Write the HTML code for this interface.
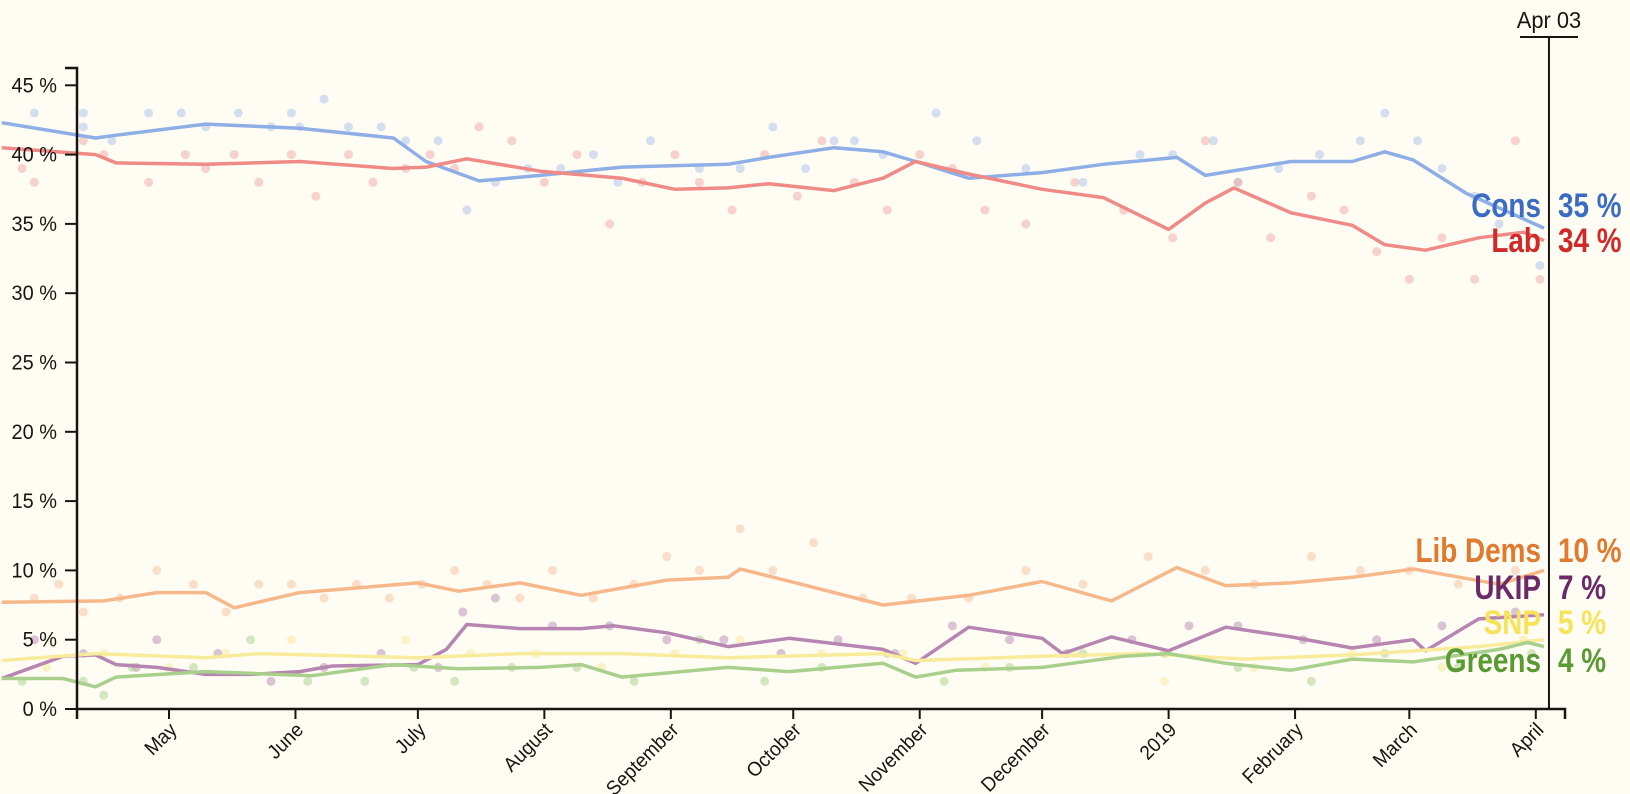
<!DOCTYPE html>
<html><head><meta charset="utf-8">
<style>
html,body{margin:0;padding:0;background:#fffdf3;}
svg{display:block;font-family:"Liberation Sans Narrow","Liberation Sans",sans-serif;}
</style></head>
<body>
<svg id="chart" width="1630" height="794" xmlns="http://www.w3.org/2000/svg">
<rect width="1630" height="794" fill="#fffdf3"/>
<g id="dots"></g>
<g id="lines"></g>
<g id="axes"></g>
<g id="labels"></g>
</svg>
<script>
// days since 2018-05-01
const consDays=[-41,-18,-13,9,32,55,63,76,91,111,137,147,163,175,183,196,214,229,247,254,275,290,298,305,318,337];
const consVals=[42.3,41.2,41.4,42.2,41.9,41.2,39.5,38.1,38.5,39.1,39.3,39.8,40.5,40.2,39.5,38.3,38.7,39.3,39.8,38.5,39.5,39.5,40.2,39.6,37.2,34.7];
const labDays=[-41,-18,-13,9,32,55,63,73,91,111,124,137,147,163,175,183,196,214,229,245,254,261,275,290,298,308,321,332,337];
const labVals=[40.5,40.0,39.4,39.3,39.5,39.0,39.1,39.7,38.8,38.3,37.5,37.6,37.9,37.4,38.3,39.5,38.6,37.5,36.9,34.6,36.5,37.6,35.8,34.9,33.5,33.1,34.0,34.4,33.8];
const ldDays=[-41,-16,-3,9,16,32,61,71,86,101,122,137,140,155,175,196,214,231,247,259,275,290,305,326,337];
const ldVals=[7.7,7.8,8.4,8.4,7.3,8.4,9.1,8.5,9.1,8.2,9.3,9.5,10.1,9.0,7.5,8.2,9.2,7.8,10.2,8.9,9.1,9.5,10.1,9.0,10.0];
const ukipDays=[-41,-26,-18,-13,-3,9,20,32,40,61,68,73,86,101,109,122,137,152,175,183,196,214,219,231,245,259,275,290,305,308,321,337];
const ukipVals=[2.2,3.8,3.9,3.2,3.0,2.5,2.5,2.7,3.1,3.2,4.3,6.1,5.8,5.8,6.0,5.5,4.5,5.1,4.3,3.3,5.9,5.1,4.0,5.2,4.2,5.9,5.2,4.4,5.0,4.2,6.5,6.8];
const snpDays=[-41,-18,9,22,61,86,111,137,175,183,214,239,264,290,321,337];
const snpVals=[3.5,4.0,3.7,4.0,3.7,4.0,4.0,3.7,4.0,3.5,3.8,4.0,3.6,3.9,4.5,5.0];
const greenDays=[-41,-26,-18,-13,9,35,55,71,91,101,111,137,152,175,183,193,214,234,245,259,275,290,305,326,333,337];
const greenVals=[2.2,2.2,1.6,2.3,2.7,2.4,3.2,2.9,3.0,3.2,2.3,3.0,2.7,3.3,2.3,2.8,3.0,3.8,4.0,3.3,2.8,3.6,3.4,4.3,4.8,4.5];
// poll dots [day, value]
const consPollDays=[-33,-21,-21,-14,-5,3,9,17,25,30,32,38,44,52,58,66,73,80,88,96,104,110,118,130,140,148,156,163,168,175,188,198,210,224,238,246,256,262,272,282,292,298,306,312,320,326,336];
const consPollVals=[43,42,43,41,43,43,42,43,42,43,42,44,42,42,41,41,36,38,39,39,40,38,41,39,39,42,39,41,41,40,43,41,39,38,40,40,41,38,39,40,41,43,41,39,37,35,32];
const labPollDays=[-36,-33,-21,-16,-5,4,9,16,22,30,36,44,50,58,64,70,76,84,92,100,108,116,124,130,138,146,154,160,168,176,184,192,200,210,222,234,246,254,262,270,280,288,296,304,312,320,330,336];
const labPollVals=[39,38,41,40,38,40,39,40,38,40,37,40,38,39,40,39,42,41,38,40,35,38,40,38,36,40,37,41,38,36,40,39,36,35,38,36,34,41,38,34,37,36,33,31,34,31,41,31];
const ldPollDays=[-33,-27,-21,-12,-3,6,14,22,30,38,46,54,62,70,78,86,94,104,114,122,130,140,148,158,170,182,196,210,224,240,254,266,280,292,304,316,330];
const ldPollVals=[8,9,7,8,10,9,7,9,9,8,9,8,9,10,9,8,10,8,9,11,10,13,10,12,8,8,8,10,9,11,10,9,11,10,10,9,10];
const ukipPollDays=[-33,-21,-8,-3,12,25,38,52,66,72,80,94,108,122,136,150,164,178,192,206,220,236,250,262,278,296,312,330];
const ukipPollVals=[5,4,3,5,4,2,3,4,3,7,8,6,6,5,5,4,5,4,6,5,4,5,6,6,5,5,6,7];
const snpPollDays=[-30,-16,0,14,30,44,58,74,90,106,124,140,160,180,200,222,244,266,290,312,332];
const snpPollVals=[3,4,3,4,5,3,5,4,4,3,4,5,4,4,3,4,2,3,4,3,5];
const greenPollDays=[-36,-21,-16,-9,6,20,34,48,60,70,84,100,114,130,146,160,176,190,206,224,244,262,280,298,316,334];
const greenPollVals=[2,2,1,3,3,5,2,2,3,2,3,3,2,5,2,3,4,2,3,4,4,3,2,4,3,4];
const yTicks=[0,5,10,15,20,25,30,35,40,45];
const monthNames=["May","June","July","August","September","October","November","December","2019","February","March","April"];
const monthDays=[0,31,61,92,123,153,184,214,245,276,304,335];
const parties=["Cons","Lab","Lib Dems","UKIP","SNP","Greens"];
const partyFinal=["35 %","34 %","10 %","7 %","5 %","4 %"];

const NS="http://www.w3.org/2000/svg";
const X0=169, PXD=4.08, Y0=709, PXV=13.86;
const x=d=>X0+d*PXD;
const y=v=>Y0-v*PXV;
function mk(tag,attrs,parent){const e=document.createElementNS(NS,tag);for(const k in attrs)e.setAttribute(k,attrs[k]);parent.appendChild(e);return e;}
function txt(parent,tx,ty,anchor,size,sx,fill,weight,rot){
  const tr=`translate(${tx},${ty})`+(rot?` rotate(${rot})`:'')+` scale(${sx},1)`;
  return mk('text',{x:0,y:0,'text-anchor':anchor,'font-size':size,'font-weight':weight||'normal',fill:fill,transform:tr},parent);
}

const series=[
 {key:"cons",days:consDays,vals:consVals,pd:consPollDays,pv:consPollVals,line:"#8eaee6",dot:"#a9c0ea",lab:"#3b6cc3",ly:205},
 {key:"lab",days:labDays,vals:labVals,pd:labPollDays,pv:labPollVals,line:"#ef8a86",dot:"#f0a6a3",lab:"#d0292a",ly:240},
 {key:"libdems",days:ldDays,vals:ldVals,pd:ldPollDays,pv:ldPollVals,line:"#f6b88a",dot:"#f5bf9d",lab:"#e07a2f",ly:550},
 {key:"ukip",days:ukipDays,vals:ukipVals,pd:ukipPollDays,pv:ukipPollVals,line:"#b685b1",dot:"#b58ab2",lab:"#6a2a67",ly:587},
 {key:"snp",days:snpDays,vals:snpVals,pd:snpPollDays,pv:snpPollVals,line:"#f8ec9c",dot:"#f7ea9a",lab:"#f6e35a",ly:622},
 {key:"greens",days:greenDays,vals:greenVals,pd:greenPollDays,pv:greenPollVals,line:"#a9cf8d",dot:"#a9cf8d",lab:"#5a9a33",ly:660}
];
const dotsG=document.getElementById('dots'), linesG=document.getElementById('lines'), axG=document.getElementById('axes'), labG=document.getElementById('labels');
series.forEach(s=>{
  s.pd.forEach((d,i)=>{
    const c=mk('circle',{cx:x(d),cy:y(s.pv[i]),r:4.5,fill:s.dot,opacity:0.5},dotsG);
    
    
  });
});
series.forEach(s=>{
  const pts=s.days.map((d,i)=>x(d).toFixed(1)+','+y(s.vals[i]).toFixed(1)).join(' ');
  const p=mk('polyline',{points:pts,fill:'none',stroke:s.line,'stroke-width':3.5,'stroke-linejoin':'round'},linesG);
  
  
});
// y axis
const ya=mk('path',{d:'M65,68H77V709',fill:'none',stroke:'#1a1410','stroke-width':2.5},axG);


yTicks.forEach(v=>{
  mk('line',{x1:65,x2:77,y1:y(v),y2:y(v),stroke:'#1a1410','stroke-width':2},axG);
  const t=txt(axG,57,y(v)+7,'end',21,0.95,'#1a1410');
  t.textContent=v+' %';
  
  
});
// x axis
const xa=mk('path',{d:'M77,719V709H1565V719',fill:'none',stroke:'#1a1410','stroke-width':2.5},axG);


monthDays.forEach((d,i)=>{
  const tx=x(d);
  mk('line',{x1:tx,x2:tx,y1:709,y2:719,stroke:'#1a1410','stroke-width':2},axG);
  const t=txt(axG,tx+9,731,'end',20,0.95,'#1a1410','normal',-45);
  t.textContent=monthNames[i];
  
  
});
// current date marker
const cx=x(337)+5;
const vl=mk('path',{d:`M${cx-29},37H${cx+29}M${cx},37V709`,fill:'none',stroke:'#1a1410','stroke-width':2},axG);


const dt=txt(axG,cx,28,'middle',23,0.95,'#1a1410');
dt.textContent='Apr 03';


// party labels
series.forEach((s,i)=>{
  const n=txt(labG,cx-8,s.ly+12,'end',34,0.82,s.lab,'bold');
  n.textContent=parties[i];
  
  
  const v=txt(labG,cx+9,s.ly+12,'start',34,0.82,s.lab,'bold');
  v.textContent=partyFinal[i];
  
  
});
</script>
</body></html>
